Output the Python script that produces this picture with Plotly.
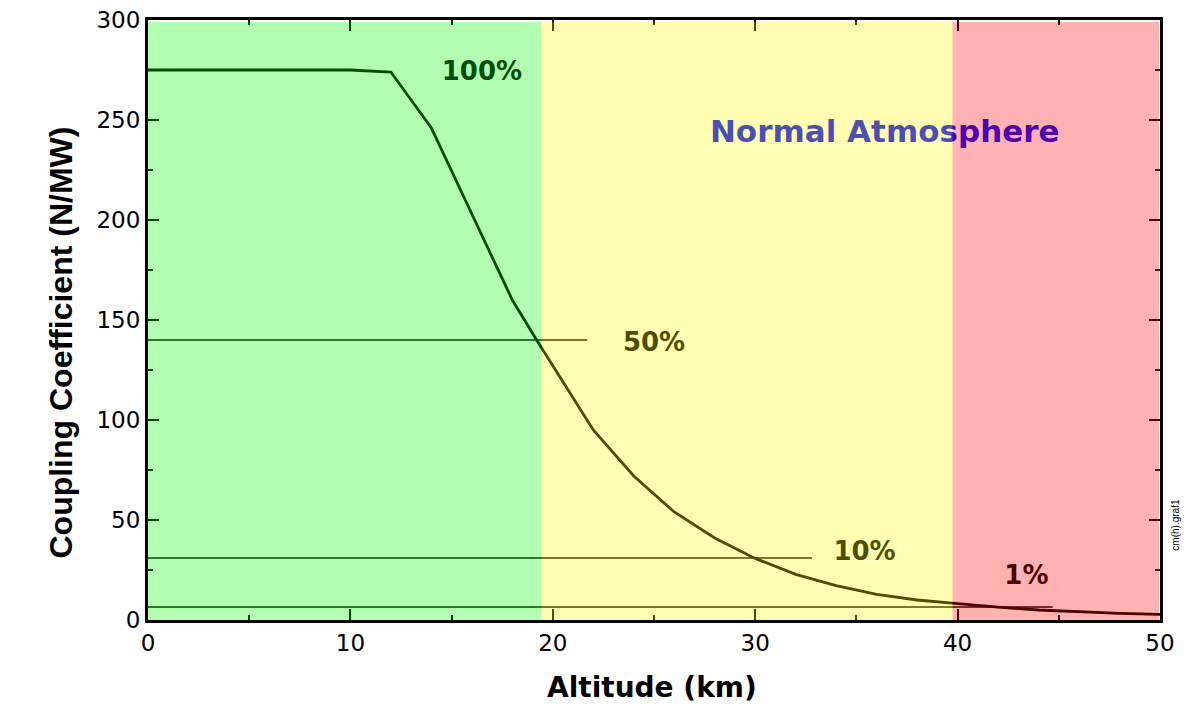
import plotly.graph_objects as go

# Curve: coupling coefficient vs altitude
altitude_km = [0, 10, 12, 14, 16, 18, 19.2, 20, 22, 24, 26, 28, 30, 32, 34, 36, 38, 40, 42, 44, 46, 48, 50]
coupling = [275, 275, 274, 246, 203, 160, 140, 127, 95, 72, 54, 41, 30.8, 22.8, 17.2, 12.8, 10, 8.2, 6.4, 5.0, 4.0, 3.3, 2.8]

# Reference levels (value, end altitude)
ref_levels = [140, 31, 6.5]
ref_ends = [21.7, 32.8, 44.7]

# Labels
label_texts = ["100%", "50%", "10%", "1%"]
label_x = [16.5, 25.0, 35.4, 43.4]
label_y = [273.5, 138, 33.5, 21.5]

# Zones (start, end)
zone_bounds = [(-0.18, 19.45), (19.45, 39.75), (39.75, 49.95)]
zone_colors = ["#00ff00", "#ffff00", "#ff0000"]

fig = go.Figure()

fig.add_trace(go.Scatter(x=altitude_km, y=coupling, mode="lines",
                         line=dict(color="black", width=2.8), showlegend=False))

for lvl, end in zip(ref_levels, ref_ends):
    fig.add_trace(go.Scatter(x=[0, end], y=[lvl, lvl], mode="lines",
                             line=dict(color="black", width=1.4), showlegend=False))

fig.add_trace(go.Scatter(x=label_x, y=label_y, mode="text", text=label_texts,
                         textfont=dict(family="DejaVu Sans", size=26, color="black", weight="bold"),
                         showlegend=False, cliponaxis=False))

fig.add_trace(go.Scatter(x=[36.4], y=[243], mode="text", text=["Normal Atmosphere"],
                         textfont=dict(family="DejaVu Sans", size=31, color="#0000ff", weight="bold"),
                         showlegend=False, cliponaxis=False))

for (a, b), c in zip(zone_bounds, zone_colors):
    fig.add_shape(type="rect", xref="x", yref="y", x0=a, x1=b, y0=-3.5, y1=299,
                  fillcolor=c, opacity=0.3, line=dict(width=0), layer="above")

axis_common = dict(showline=True, linecolor="black", linewidth=3, mirror="ticks",
                   ticks="inside", ticklen=11, tickwidth=2, tickcolor="black",
                   showgrid=False, zeroline=False, automargin=False,
                   ticklabeloverflow="allow",
                   tickfont=dict(family="DejaVu Sans", size=23, color="black"))

fig.update_xaxes(range=[0, 50], dtick=10, tick0=0,
                 minor=dict(ticks="inside", ticklen=5, tickwidth=2, dtick=5, tickcolor="black"),
                 **axis_common)
fig.update_yaxes(range=[0, 300], dtick=50, tick0=0,
                 minor=dict(ticks="inside", ticklen=5, tickwidth=2, dtick=25, tickcolor="black"),
                 **axis_common)

fig.add_annotation(text="Coupling Coefficient (N/MW)", xref="paper", yref="paper",
                   x=-0.1067, y=0.4625, textangle=-90, showarrow=False,
                   font=dict(family="Liberation Sans", size=32, color="black", weight="bold"))
fig.add_annotation(text="Altitude (km)", xref="paper", yref="paper",
                   x=0.4985, y=-0.112, showarrow=False, yanchor="middle",
                   font=dict(family="DejaVu Sans", size=28, color="black", weight="bold"))
fig.add_annotation(text="cm(h).graf1", xref="paper", yref="paper",
                   x=1.0227, y=0.113, textangle=-90, showarrow=False,
                   font=dict(family="Liberation Sans", size=10, color="black"))

fig.update_layout(width=1195, height=702, margin=dict(l=140, r=43, t=12, b=90),
                  plot_bgcolor="white", paper_bgcolor="white")

fig.write_html("out.html")
